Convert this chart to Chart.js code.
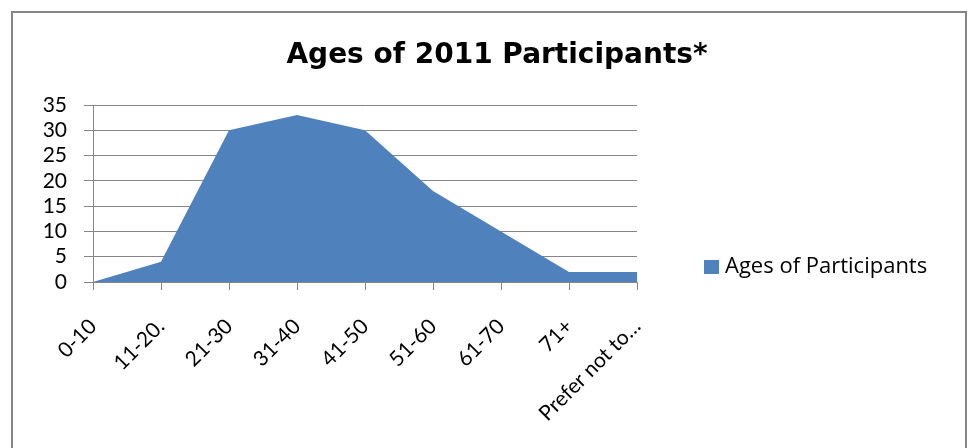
<!DOCTYPE html>
<html>
<head>
<meta charset="utf-8">
<title>Ages of 2011 Participants</title>
<script src="https://cdn.jsdelivr.net/npm/chart.js@4.4.0/dist/chart.umd.min.js"></script>
<style>
  html, body { margin: 0; padding: 0; background: #fff; }
  #wrap { width: 969px; height: 448px; }
</style>
</head>
<body>
<div id="wrap"><canvas id="ageChart"></canvas></div>
<script>
const ageGroups = ['0-10', '11-20.', '21-30', '31-40', '41-50', '51-60', '61-70', '71+', 'Prefer not to…'];
const participantCounts = [0, 4, 30, 33, 30, 18, 10, 2, 2];
const yMin = 0;
const yMax = 35;
const yStep = 5;
const seriesName = 'Ages of Participants';
const chartTitle = 'Ages of 2011 Participants*';

const AXIS_GREY = '#868686';
const FILL_BLUE = '#4F81BD';
const W = 969, H = 448;
// plot box: x 93..637, y 105..282
const PLOT = { left: 93, right: 637, top: 105, bottom: 282 };
const PAD = { left: 25, right: W - PLOT.right, top: PLOT.top, bottom: 8 };

// frame, title and the legend to the right of the plot
const decorPlugin = {
  id: 'decor',
  beforeDraw(chart) {
    const ctx = chart.ctx;
    ctx.save();
    ctx.strokeStyle = AXIS_GREY;
    ctx.lineWidth = 2;
    ctx.strokeRect(12, 12, chart.width - 15, chart.height + 20);
    ctx.restore();
  },
  afterDraw(chart) {
    const ctx = chart.ctx;
    ctx.save();
    ctx.fillStyle = '#000';
    ctx.textAlign = 'center';
    ctx.textBaseline = 'alphabetic';
    ctx.font = 'bold 28px "DejaVu Sans"';
    ctx.fillText(chartTitle, 497, 63);

    const ds = chart.data.datasets[0];
    ctx.fillStyle = ds.backgroundColor;
    ctx.fillRect(704, 260, 15, 14);
    ctx.fillStyle = '#000';
    ctx.textAlign = 'left';
    ctx.textBaseline = 'middle';
    ctx.font = '22px "Open Sans"';
    ctx.fillText(ds.label, 725, 267);
    ctx.restore();
  }
};

const ctx = document.getElementById('ageChart').getContext('2d');
new Chart(ctx, {
  type: 'line',
  data: {
    labels: ageGroups,
    datasets: [{
      label: seriesName,
      data: participantCounts,
      fill: 'origin',
      backgroundColor: FILL_BLUE,
      borderColor: FILL_BLUE,
      borderWidth: 0,
      pointRadius: 0,
      tension: 0
    }]
  },
  options: {
    responsive: true,
    maintainAspectRatio: false,
    animation: false,
    layout: { padding: PAD },
    plugins: {
      legend: { display: false },
      tooltip: { enabled: false }
    },
    scales: {
      x: {
        offset: false,
        grid: { drawOnChartArea: false, drawTicks: true, tickLength: 8, color: AXIS_GREY },
        border: { display: true, color: AXIS_GREY },
        ticks: {
          color: '#000',
          minRotation: 45,
          maxRotation: 45,
          autoSkip: false,
          padding: 24,
          font: { family: 'Lato', size: 21 }
        },
        afterFit(scale) {
          scale.height = H - PAD.bottom - PLOT.bottom;
        }
      },
      y: {
        min: yMin,
        max: yMax,
        grid: { color: AXIS_GREY, tickLength: 9 },
        border: { display: true, color: AXIS_GREY },
        ticks: {
          stepSize: yStep,
          autoSkip: false,
          color: '#000',
          padding: 17,
          font: { family: 'Lato', size: 21 }
        },
        afterFit(scale) {
          scale.width = PLOT.left - PAD.left;
        }
      }
    }
  },
  plugins: [decorPlugin]
});
</script>
</body>
</html>
